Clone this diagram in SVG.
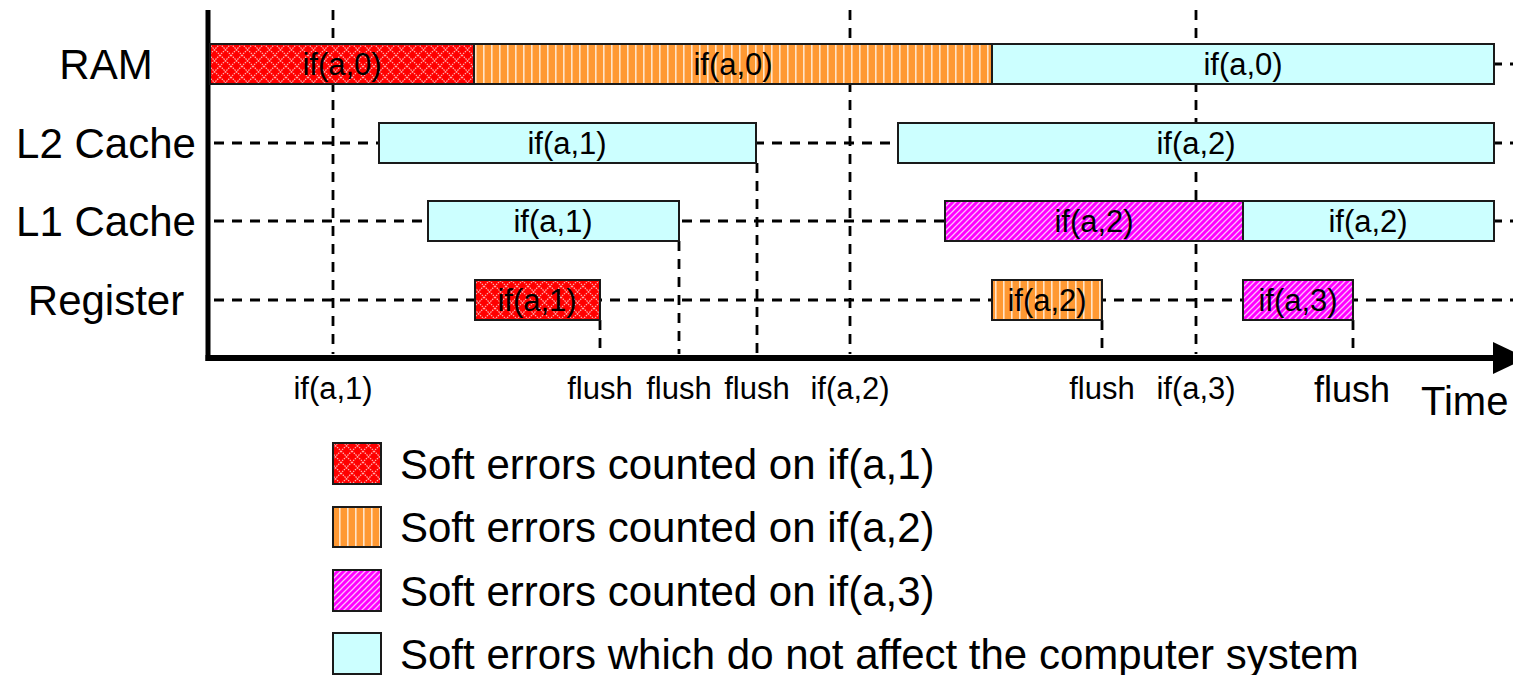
<svg xmlns="http://www.w3.org/2000/svg" width="1513" height="675" viewBox="0 0 1513 675">
<defs>
<pattern id="pRed" patternUnits="userSpaceOnUse" width="11" height="11">
<rect width="11" height="11" fill="#FF0000"/>
<path d="M0,0 L11,11 M11,0 L0,11" stroke="#FFB0B0" stroke-width="1.2" stroke-dasharray="1.5,1"/>
</pattern>
<pattern id="pOrange" patternUnits="userSpaceOnUse" width="8" height="8">
<rect width="8" height="8" fill="#FF9933"/>
<rect x="3" width="1.6" height="8" fill="#FFE4C8"/>
</pattern>
<pattern id="pMag" patternUnits="userSpaceOnUse" width="6" height="6">
<rect width="6" height="6" fill="#FF00FF"/>
<path d="M-1,7 L7,-1 M-1,1 L1,-1 M5,7 L7,5" stroke="#FFC0FF" stroke-width="1.3"/>
</pattern>
<marker id="arr" markerUnits="userSpaceOnUse" markerWidth="34" markerHeight="34" refX="0" refY="17" orient="auto">
<path d="M0,1 L34,17 L0,33 Z" fill="#000"/>
</marker>
</defs>
<style>
.dash{stroke:#000;stroke-width:2.8;stroke-dasharray:10,8;fill:none}
.box{stroke:#1a1a1a;stroke-width:2}
.red{fill:url(#pRed)}
.org{fill:url(#pOrange)}
.mag{fill:url(#pMag)}
.cyan{fill:#CCFFFF}
text{font-family:"Liberation Sans",Arial,sans-serif;fill:#000}
.bl{font-size:31px;text-anchor:middle}
.lab{font-size:42px}
</style>
<g id="connectors">
<line class="dash" x1="214" y1="64" x2="1513" y2="64"/>
<line class="dash" x1="214" y1="143" x2="1513" y2="143"/>
<line class="dash" x1="214" y1="221" x2="1513" y2="221"/>
<line class="dash" x1="214" y1="300" x2="1513" y2="300"/>
<line class="dash" x1="333" y1="10" x2="333" y2="354"/>
<line class="dash" x1="850" y1="10" x2="850" y2="354"/>
<line class="dash" x1="1196" y1="10" x2="1196" y2="354"/>
<line class="dash" x1="600" y1="320" x2="600" y2="354"/>
<line class="dash" x1="679" y1="241" x2="679" y2="354"/>
<line class="dash" x1="757" y1="163" x2="757" y2="354"/>
<line class="dash" x1="1102" y1="320" x2="1102" y2="354"/>
<line class="dash" x1="1353" y1="320" x2="1353" y2="354"/>
</g>
<g id="axes">
<line x1="208" y1="10" x2="208" y2="361" stroke="#000" stroke-width="5"/>
<line x1="205.5" y1="358" x2="1493" y2="358" stroke="#000" stroke-width="6" marker-end="url(#arr)"/>
</g>
<g id="row-labels">
<text class="lab" x="106" y="79" text-anchor="middle">RAM</text>
<text class="lab" x="106" y="158" text-anchor="middle">L2 Cache</text>
<text class="lab" x="106" y="236" text-anchor="middle">L1 Cache</text>
<text class="lab" x="106" y="315" text-anchor="middle">Register</text>
</g>
<g id="ram">
<rect class="box red" x="210" y="44" width="264" height="40"/>
<text class="bl" x="342" y="75">if(a,0)</text>
<rect class="box org" x="474" y="44" width="518" height="40"/>
<text class="bl" x="733" y="75">if(a,0)</text>
<rect class="box cyan" x="992" y="44" width="502" height="40"/>
<text class="bl" x="1243" y="75">if(a,0)</text>
</g>
<g id="l2">
<rect class="box cyan" x="379" y="123" width="377" height="40"/>
<text class="bl" x="567" y="154">if(a,1)</text>
<rect class="box cyan" x="898" y="123" width="596" height="40"/>
<text class="bl" x="1196" y="154">if(a,2)</text>
</g>
<g id="l1">
<rect class="box cyan" x="428" y="201" width="251" height="40"/>
<text class="bl" x="553" y="232">if(a,1)</text>
<rect class="box mag" x="945" y="201" width="298" height="40"/>
<text class="bl" x="1094" y="232">if(a,2)</text>
<rect class="box cyan" x="1243" y="201" width="251" height="40"/>
<text class="bl" x="1368" y="232">if(a,2)</text>
</g>
<g id="register">
<rect class="box red" x="475" y="280" width="125" height="40"/>
<text class="bl" x="537" y="311">if(a,1)</text>
<rect class="box org" x="992" y="280" width="110" height="40"/>
<text class="bl" x="1047" y="311">if(a,2)</text>
<rect class="box mag" x="1243" y="280" width="110" height="40"/>
<text class="bl" x="1298" y="311">if(a,3)</text>
</g>
<g id="time-labels">
<text class="bl" x="333" y="399">if(a,1)</text>
<text class="bl" x="600" y="399">flush</text>
<text class="bl" x="679" y="399">flush</text>
<text class="bl" x="757" y="399">flush</text>
<text class="bl" x="850" y="399">if(a,2)</text>
<text class="bl" x="1102" y="399">flush</text>
<text class="bl" x="1196" y="399">if(a,3)</text>
<text x="1352" y="402" font-size="36" text-anchor="middle">flush</text>
<text x="1421" y="415" font-size="40">Time</text>
</g>
<g id="legend">
<rect class="box red" x="333" y="443" width="48" height="41"/>
<text class="lab" x="400" y="479">Soft errors counted on if(a,1)</text>
<rect class="box org" x="333" y="507" width="48" height="40"/>
<text class="lab" x="400" y="542">Soft errors counted on if(a,2)</text>
<rect class="box mag" x="333" y="570" width="48" height="41"/>
<text class="lab" x="400" y="606">Soft errors counted on if(a,3)</text>
<rect class="box cyan" x="333" y="633" width="48" height="41"/>
<text class="lab" x="400" y="669">Soft errors which do not affect the computer system</text>
</g>
</svg>
